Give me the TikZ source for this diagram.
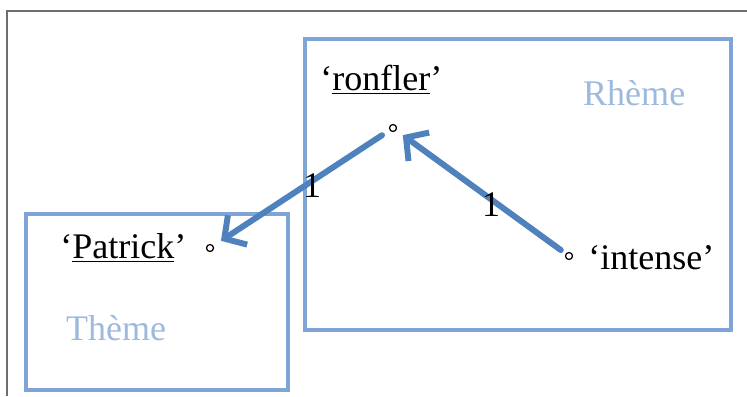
\documentclass[tikz,border=0pt]{standalone}
\usepackage{fontspec}
\setmainfont{Liberation Serif}
\usetikzlibrary{arrows.meta}
\definecolor{framegray}{HTML}{6E6E6E}
\definecolor{boxblue}{HTML}{7FA4D6}
\definecolor{areablue}{HTML}{9DB9DE}
\definecolor{arcblue}{HTML}{4F81BD}

\begin{document}
\begin{tikzpicture}[x=0.02cm,y=-0.02cm,
  zone/.style={line width=1.9pt, color=boxblue},
  areatext/.style={color=areablue, font=\fontsize{20.5}{25}\selectfont},
  word/.style={font=\fontsize{20.5}{24}\selectfont, inner sep=0pt},
  dot/.style={circle, draw, line width=0.7pt, inner sep=0pt, minimum size=7*0.02cm},
  arc/.style={line width=3.4pt, color=arcblue, line cap=round,
    -{Straight Barb[length=9pt,width=20pt,line width=3.4pt]}},
  num/.style={text=black, font=\fontsize{20.5}{24}\selectfont, inner sep=0pt}]

\useasboundingbox (0,0) rectangle (747,396);

% Frame (top and left only)
\draw[line width=0.9pt, color=framegray] (7,396) -- (7,11) -- (747,11);

% Theme and rheme zones
\draw[zone] (305,39) rectangle (731,330);
\draw[zone] (26,214) rectangle (288,390);
\node[areatext, anchor=west] (rheme) at (577,93) {Rhème};
\node[areatext, anchor=west] (theme) at (60,328) {Thème};

% Semantemes
\node[word, anchor=west] (ronfler) at (320,80) {‘\underline{ronfler}’};
\node[dot] (ronflerdot) at (393,128) {};
\node[word, anchor=west] (patrick) at (60,248) {‘\underline{Patrick}’};
\node[dot] (patrickdot) at (210,248) {};
\node[word, anchor=west] (intense) at (588,258) {‘intense’};
\node[dot] (intensedot) at (569,256) {};

% Semantic arcs
\draw[arc, shorten <=9*0.02cm, shorten >=9*0.02cm] (ronflerdot) -- node[num, pos=0.46, xshift=2pt, yshift=-1pt] (one a) {1} (patrickdot);
\draw[arc, shorten <=6*0.02cm, shorten >=8*0.02cm] (intensedot) -- node[num, pos=0.44, yshift=-3pt] (one b) {1} (ronflerdot);

\end{tikzpicture}
\end{document}
